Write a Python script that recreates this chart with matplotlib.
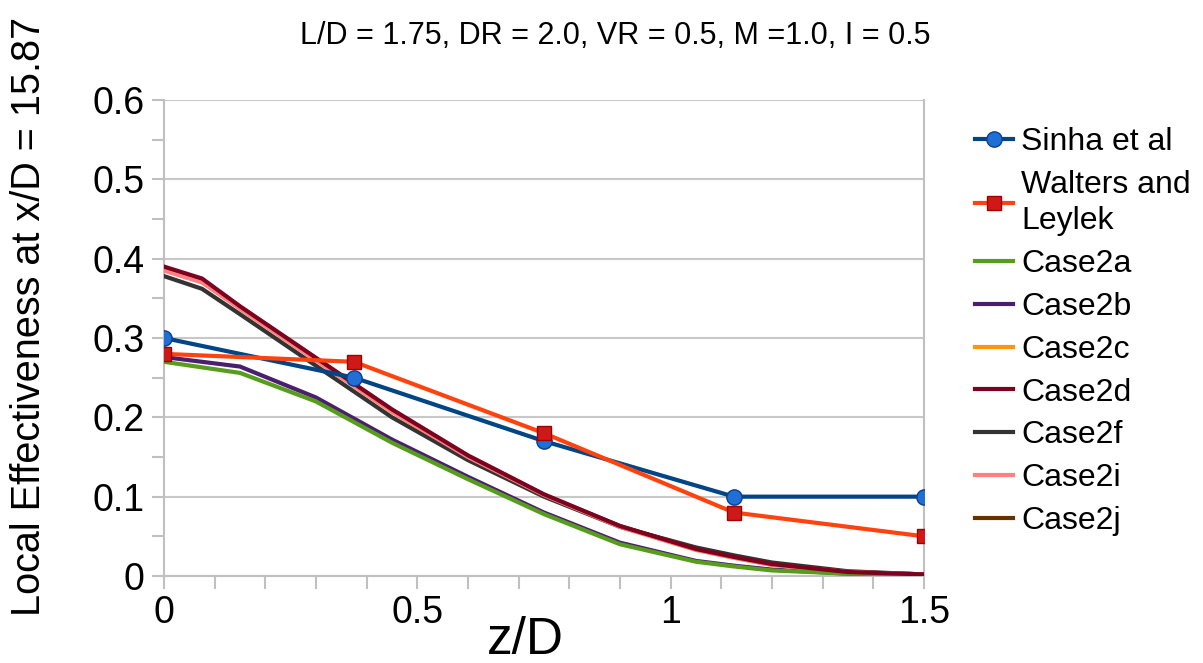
import matplotlib
matplotlib.use("Agg")
import matplotlib.pyplot as plt
from matplotlib.ticker import MultipleLocator, FuncFormatter

plt.rcParams['font.family'] = ['Liberation Sans', 'DejaVu Sans']

title = "L/D = 1.75, DR = 2.0, VR = 0.5, M =1.0, I = 0.5"
xlabel = "z/D"
ylabel = "Local Effectiveness at x/D = 15.87"

exp_x = [0.0, 0.375, 0.75, 1.125, 1.5]
sinha = [0.30, 0.25, 0.17, 0.10, 0.10]
walters = [0.28, 0.27, 0.18, 0.08, 0.05]

case_x = [0.0, 0.075, 0.15, 0.3, 0.45, 0.6, 0.75, 0.9, 1.05, 1.125, 1.2, 1.35, 1.5]
case2a = [0.270, 0.263, 0.256, 0.220, 0.168, 0.122, 0.078, 0.040, 0.018, 0.012, 0.007, 0.003, 0.002]
case2b = [0.276, 0.270, 0.264, 0.225, 0.172, 0.125, 0.080, 0.042, 0.019, 0.013, 0.008, 0.003, 0.002]
case2c = [0.386, 0.371, 0.337, 0.272, 0.207, 0.150, 0.101, 0.062, 0.033, 0.023, 0.014, 0.005, 0.002]
case2d = [0.390, 0.375, 0.340, 0.275, 0.210, 0.152, 0.103, 0.063, 0.034, 0.024, 0.015, 0.005, 0.002]
case2f = [0.378, 0.362, 0.330, 0.265, 0.200, 0.146, 0.100, 0.062, 0.036, 0.026, 0.017, 0.006, 0.002]
case2i = [0.385, 0.370, 0.337, 0.272, 0.207, 0.150, 0.102, 0.062, 0.033, 0.023, 0.014, 0.005, 0.002]
case2j = [0.388, 0.373, 0.339, 0.274, 0.209, 0.151, 0.102, 0.063, 0.034, 0.024, 0.015, 0.005, 0.002]

cases = [("Case2a", case2a, "#579d1c"),
         ("Case2b", case2b, "#4b1f6f"),
         ("Case2c", case2c, "#ff950e"),
         ("Case2d", case2d, "#7e0021"),
         ("Case2f", case2f, "#333333"),
         ("Case2i", case2i, "#ff8080"),
         ("Case2j", case2j, "#663300")]

fig = plt.figure(figsize=(12.03, 6.63), dpi=100)
ax = fig.add_axes([164/1203, 1-576/663, (924-164)/1203, (576-100)/663])

ax.plot(exp_x, sinha, color="#004586", lw=3, marker="o", markersize=11,
        markerfacecolor="#1f6fd6", markeredgecolor="#0a3f8a", markeredgewidth=1,
        label="Sinha et al", zorder=5)
ax.plot(exp_x, walters, color="#ff420e", lw=3, marker="s", markersize=10,
        markerfacecolor="#d01818", markeredgecolor="#a00000", markeredgewidth=1,
        label="Walters and\nLeylek", zorder=5)
zord = {"Case2a": 4, "Case2b": 3, "Case2c": 3, "Case2d": 4, "Case2f": 3, "Case2i": 3.5, "Case2j": 3.2}
for name, vals, col in cases:
    ax.plot(case_x, vals, color=col, lw=3, label=name, zorder=zord[name])

ax.set_xlim(0, 1.5)
ax.set_ylim(0, 0.6)
ax.xaxis.set_major_locator(MultipleLocator(0.5))
ax.xaxis.set_minor_locator(MultipleLocator(0.1))
ax.yaxis.set_major_locator(MultipleLocator(0.1))
ax.yaxis.set_minor_locator(MultipleLocator(0.05))
ax.xaxis.set_major_formatter(FuncFormatter(lambda v, p: ("%g" % v)))
ax.yaxis.set_major_formatter(FuncFormatter(lambda v, p: ("%g" % round(v, 2))))
ax.grid(axis="y", which="major", color="#c8c8c8", lw=1.5)
ax.set_axisbelow(True)
ax.spines["top"].set_visible(False)
for s in ["left", "bottom", "right"]:
    ax.spines[s].set_color("#c0c0c0")
    ax.spines[s].set_linewidth(1.5)
ax.tick_params(axis="both", which="both", direction="out", color="#c0c0c0", width=1.5)
ax.tick_params(axis="both", which="major", length=9, labelsize=27, pad=5)
ax.tick_params(axis="both", which="minor", length=9)

fig.text(615/1203, 1-36/663, title, ha="center", va="center", fontsize=22)
fig.text(525/1203, 1-640/663, xlabel, ha="center", va="center", fontsize=37)
fig.text(29/1203, 1-316/663, ylabel, ha="center", va="center", fontsize=28.5, rotation=90)

leg = fig.legend(loc="upper left", bbox_to_anchor=(962/1203, 1-114/663), frameon=False,
                 fontsize=23, handlelength=1.2, handletextpad=0.25, labelspacing=0.4,
                 borderaxespad=0)
for t in leg.get_texts():
    t.set_linespacing(1.3)
plt.savefig("out.png", dpi=100)
